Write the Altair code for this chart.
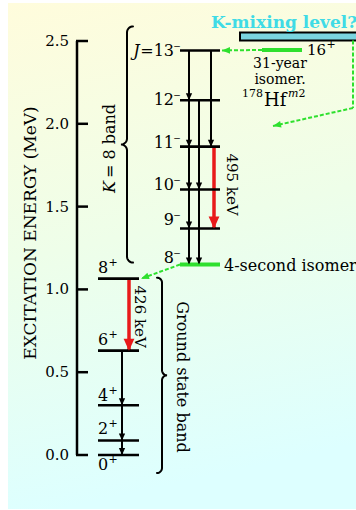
import math
import altair as alt
import numpy as np
import pandas as pd

# ------------------------------------------------------------------ data
ground_J = [0, 2, 4, 6, 8]
ground_parity = "+"
ground_energy = [0.0, 0.088, 0.300, 0.630, 1.065]            # MeV
k8_J = [8, 9, 10, 11, 12, 13]
k8_parity = "−"
k8_energy = [1.150, 1.368, 1.603, 1.862, 2.142, 2.443]        # MeV
isomer_J = 16
isomer_parity = "+"
isomer_energy = 2.446                                         # MeV
k8_from = [13, 13, 12, 12, 11, 11, 10, 10, 9]
k8_to = [12, 11, 11, 10, 10, 9, 9, 8, 8]
g_from = [8, 6, 4, 2]
g_to = [6, 4, 2, 0]
gamma_band = ["k", "g"]
gamma_from = [11, 8]
gamma_to = [9, 6]
gamma_label = ["495 keV", "426 keV"]
axis_ticks = [0.0, 0.5, 1.0, 1.5, 2.0, 2.5]
axis_title = "EXCITATION ENERGY (MeV)"

# ------------------------------------------------------------------ layout
W, H = 356, 510
Y0, PPM = 455.0, 165.6          # pixel of 0 MeV, pixels per MeV


def px(e):
    return Y0 - e * PPM


def en(p):
    return (Y0 - p) / PPM


FONT = "DejaVu Serif"
GREEN = "#2ee02e"
RED = "#e81a1a"
CYAN = "#3fdbe6"
BOX = "#7ad5e0"
DIGIT_W = 0.636                 # DejaVu Serif digit advance (em)

XS = alt.Scale(domain=[0, W], range=[0, W], nice=False, zero=False)
YS = alt.Scale(domain=[en(H), en(0)], range=[H, 0], nice=False, zero=False)
X = alt.X("x:Q", scale=XS, axis=None)
X2 = alt.X2("x2:Q")
Y = alt.Y("E:Q", scale=YS, axis=None)
Y2 = alt.Y2("E2:Q")

gE = dict(zip(ground_J, ground_energy))
kE = dict(zip(k8_J, k8_energy))
bandE = {"g": gE, "k": kE}

band_x = {"g": (98, 139), "k": (180, 220)}
lane = {("k", 13, 12): 189, ("k", 13, 11): 211, ("k", 12, 11): 189,
        ("k", 12, 10): 199, ("k", 11, 10): 189, ("k", 11, 9): 214,
        ("k", 10, 9): 189, ("k", 10, 8): 199, ("k", 9, 8): 189,
        ("g", 8, 6): 129, ("g", 6, 4): 122, ("g", 4, 2): 122, ("g", 2, 0): 122}

ARROW_DOWN = "M-0.45,-1L0.45,-1L0,0Z"
ARROW_EAST = "M0,0L-1,-0.42L-1,0.42Z"


def text_layer(items, **kw):
    df = pd.DataFrame(items, columns=["x", "E", "t"])
    base = dict(font=FONT, color="black")
    base.update(kw)
    return alt.Chart(df).mark_text(**base).encode(x=X, y=Y, text="t:N")


# ------------------------------------------------------------------ background
grad = {"gradient": "linear", "x1": 0, "y1": 0, "x2": 0.15, "y2": 1,
        "stops": [{"offset": 0, "color": "#fffcdc"},
                  {"offset": 0.5, "color": "#eefee9"},
                  {"offset": 1, "color": "#ddffff"}]}
bg = alt.Chart(pd.DataFrame({"k": [0]})).mark_rect(fill=grad).encode(
    x=alt.value(8), x2=alt.value(W), y=alt.value(3), y2=alt.value(H - 1))

# ------------------------------------------------------------------ axis
axis_df = pd.DataFrame({"x": [77], "E": [min(axis_ticks)], "E2": [max(axis_ticks)]})
axis_line = alt.Chart(axis_df).mark_rule(color="black", strokeWidth=2.5).encode(x=X, y=Y, y2=Y2)
tick_df = pd.DataFrame({"x": [76] * len(axis_ticks), "x2": [88] * len(axis_ticks),
                        "E": axis_ticks, "t": [f"{v:.1f}" for v in axis_ticks]})
ticks = alt.Chart(tick_df).mark_rule(color="black", strokeWidth=2.5).encode(x=X, x2=X2, y=Y)
tick_lbl = alt.Chart(tick_df.assign(x=69)).mark_text(
    font=FONT, fontSize=15, align="right", baseline="middle", color="black").encode(x=X, y=Y, text="t:N")
title = text_layer([(31, en(233), axis_title)], fontSize=17, angle=270, align="center", baseline="middle")

# ------------------------------------------------------------------ levels
rows = []
for j, e in zip(ground_J, ground_energy):
    rows.append({"E": e, "x": band_x["g"][0], "x2": band_x["g"][1], "iso": False})
for j, e in zip(k8_J, k8_energy):
    rows.append({"E": e, "x": band_x["k"][0], "x2": band_x["k"][1], "iso": j == min(k8_J)})
lev_df = pd.DataFrame(rows)
levels_black = alt.Chart(lev_df[~lev_df["iso"]]).mark_rule(color="black", strokeWidth=2.6).encode(
    x=X, x2=X2, y=Y)
levels_green = alt.Chart(lev_df[lev_df["iso"]]).mark_rule(color=GREEN, strokeWidth=4).encode(
    x=X, x2=X2, y=Y)
iso_level = alt.Chart(pd.DataFrame({"x": [262], "x2": [302], "E": [isomer_energy]})).mark_rule(
    color=GREEN, strokeWidth=4).encode(x=X, x2=X2, y=Y)

# level labels: spin number + raised parity sign
g_off = {0: -15, 2: 6, 4: 4, 6: 6, 8: 6}            # label baseline offset above level (px)
k_off = {13: -6, 12: -5, 11: -1, 10: 0, 9: 3, 8: 2}
FS = 16
g_num, g_sig = [], []
for j, e in zip(ground_J, ground_energy):
    eb = e + g_off[j] / PPM
    g_num.append((98, eb, str(j)))
    g_sig.append((98 + DIGIT_W * FS * len(str(j)) + 5, eb + 10 / PPM, ground_parity))
k_num, k_sig = [], []
for j, e in zip(k8_J, k8_energy):
    eb = e + k_off[j] / PPM
    k_num.append((174, eb, ("=" if j == max(k8_J) else "") + str(j)))
    k_sig.append((177, eb + 10 / PPM, k8_parity))
j_x = 174 - (0.838 + DIGIT_W * 2) * FS - 0.5
labels = [
    text_layer(g_num, fontSize=FS, align="left", baseline="alphabetic"),
    text_layer(g_sig, fontSize=11, align="center", baseline="middle"),
    text_layer(k_num, fontSize=FS, align="right", baseline="alphabetic"),
    text_layer(k_sig, fontSize=9, align="center", baseline="middle"),
    text_layer([(j_x, kE[max(k8_J)] + k_off[max(k8_J)] / PPM, "J")], fontSize=FS, fontStyle="italic",
               align="right", baseline="alphabetic"),
    text_layer([(307, isomer_energy - 5 / PPM, str(isomer_J))], fontSize=15, align="left",
               baseline="alphabetic"),
    text_layer([(307 + DIGIT_W * 15 * 2 + 5, isomer_energy + 5 / PPM, isomer_parity)], fontSize=11,
               align="center", baseline="middle"),
]

# ------------------------------------------------------------------ transitions
red_set = set(zip(gamma_band, gamma_from, gamma_to))
tr = []
for band, fr, to in [("k", a, b) for a, b in zip(k8_from, k8_to)] + [("g", a, b) for a, b in zip(g_from, g_to)]:
    tr.append({"x": lane[(band, fr, to)], "E": bandE[band][fr], "E2": bandE[band][to],
               "red": (band, fr, to) in red_set})
tr_df = pd.DataFrame(tr)
tr_black = alt.Chart(tr_df[~tr_df["red"]]).mark_rule(color="black", strokeWidth=2).encode(x=X, y=Y, y2=Y2)
tr_red = alt.Chart(tr_df[tr_df["red"]]).mark_rule(color=RED, strokeWidth=3.5).encode(x=X, y=Y, y2=Y2)
head_black = alt.Chart(tr_df[~tr_df["red"]]).mark_point(
    shape=ARROW_DOWN, filled=True, size=196, color="black", opacity=1, strokeWidth=0).encode(
    x=X, y=alt.Y("E2:Q", scale=YS, axis=None))
head_red = alt.Chart(tr_df[tr_df["red"]]).mark_point(
    shape=ARROW_DOWN, filled=True, size=576, color=RED, opacity=1, strokeWidth=0).encode(
    x=X, y=alt.Y("E2:Q", scale=YS, axis=None))

gam = []
for band, fr, to, t in zip(gamma_band, gamma_from, gamma_to, gamma_label):
    xl = {"k": 232, "g": 140}[band]
    gam.append((xl, (bandE[band][fr] + bandE[band][to]) / 2 + (3 if band == "k" else -2) / PPM, t))
gam_lbl = text_layer(gam, fontSize=15, angle=90, align="center", baseline="middle")

# ------------------------------------------------------------------ K-mixing box & green dashed paths
box_bot, box_top = en(40.5), en(32.5)
box = alt.Chart(pd.DataFrame({"x": [240], "x2": [372], "E": [box_bot], "E2": [box_top]})).mark_rect(
    fill=BOX, stroke="black", strokeWidth=2).encode(x=X, x2=X2, y=Y, y2=Y2)
kmix = text_layer([(211, en(28), "K-mixing level?")], fontSize=17, fontWeight="bold", align="left",
                  baseline="alphabetic", color=CYAN)

segs = [
    {"x": 262, "E": isomer_energy, "x2": 222, "E2": kE[13], "arrow": True},
    {"x": 180, "E": kE[8], "x2": 141, "E2": gE[8], "arrow": True},
    {"x": 353, "E": box_bot, "x2": 353, "E2": en(108), "arrow": False},
    {"x": 353, "E": en(108), "x2": 273, "E2": en(126), "arrow": True},
]
seg_df = pd.DataFrame(segs)
seg_df["ang"] = [math.degrees(math.atan2(px(r.E2) - px(r.E), r.x2 - r.x)) % 360 for r in seg_df.itertuples()]
dashed = alt.Chart(seg_df.drop(columns=["arrow"])).mark_rule(
    color=GREEN, strokeWidth=2, strokeDash=[4, 2]).encode(x=X, x2=X2, y=Y, y2=Y2)
heads = seg_df[seg_df["arrow"]].drop(columns=["arrow", "x", "E"]).rename(columns={"x2": "x"})
green_heads = alt.Chart(heads).mark_point(
    shape=ARROW_EAST, filled=True, size=256, color=GREEN, opacity=1, strokeWidth=0).encode(
    x=X, y=alt.Y("E2:Q", scale=YS, axis=None), angle=alt.Angle("ang:Q", scale=None))

# ------------------------------------------------------------------ braces


def brace(bid, x_line, p_top, p_bot, d, h, tip, n=10):
    t = np.linspace(0, np.pi / 2, n)
    mid = (p_top + p_bot) / 2
    xs, ys = [], []
    xs += list(x_line + d * h * (1 - np.sin(t))); ys += list(p_top + h * (1 - np.cos(t)))
    cx, cy = x_line - d * tip, mid - tip
    xs += list(cx + d * tip * np.cos(t)); ys += list(cy + tip * np.sin(t))
    cx, cy = x_line - d * tip, mid + tip
    xs += list(cx + d * tip * np.sin(t)); ys += list(cy - tip * np.cos(t))
    cx, cy = x_line + d * h, p_bot - h
    xs += list(cx - d * h * np.cos(t)); ys += list(cy + h * np.sin(t))
    return pd.DataFrame({"b": bid, "x": xs, "E": [en(v) for v in ys], "o": range(len(xs))})


br_df = pd.concat([
    brace("k", 127, px(max(k8_energy)) - 24, px(min(k8_energy)) - 2, +1, 6, 6),
    brace("g", 162, px(max(ground_energy)) - 1, px(min(ground_energy)) + 18, -1, 5, 5),
])
braces = alt.Chart(br_df).mark_line(color="black", strokeWidth=2, strokeCap="round").encode(
    x=X, y=Y, detail="b:N", order="o:Q")

# ------------------------------------------------------------------ annotation texts
notes = [
    text_layer([(280, en(68), "31-year"), (280, en(83.5), "isomer.")], fontSize=14, align="center",
               baseline="alphabetic"),
    text_layer([(264, en(106), "Hf")], fontSize=18, align="left", baseline="alphabetic"),
    text_layer([(263, en(97), "178")], fontSize=11, align="right", baseline="alphabetic"),
    text_layer([(288, en(97), "m")], fontSize=11, fontStyle="italic", align="left", baseline="alphabetic"),
    text_layer([(298.5, en(97), "2")], fontSize=11, align="left", baseline="alphabetic"),
    text_layer([(224, kE[8] - 6 / PPM, "4-second isomer")], fontSize=16, align="left",
               baseline="alphabetic"),
    text_layer([(182, en(377), "Ground state band")], fontSize=16, angle=90, align="center",
               baseline="middle"),
    text_layer([(110, en(193), "K")], fontSize=16, fontStyle="italic", angle=270, align="left",
               baseline="middle"),
    text_layer([(110, en(178), "= 8 band")], fontSize=16, angle=270, align="left", baseline="middle"),
]

chart = alt.layer(
    bg, axis_line, ticks, tick_lbl, title,
    braces, box, kmix, dashed,
    tr_black, tr_red, levels_black, levels_green, iso_level,
    head_black, head_red, green_heads,
    *labels, gam_lbl, *notes,
).properties(
    width=W, height=H, autosize=alt.AutoSizeParams(type="none"), padding=0,
    background="white",
).configure_view(stroke=None)

chart.save("out.html", embed_options={"renderer": "svg", "actions": False})
